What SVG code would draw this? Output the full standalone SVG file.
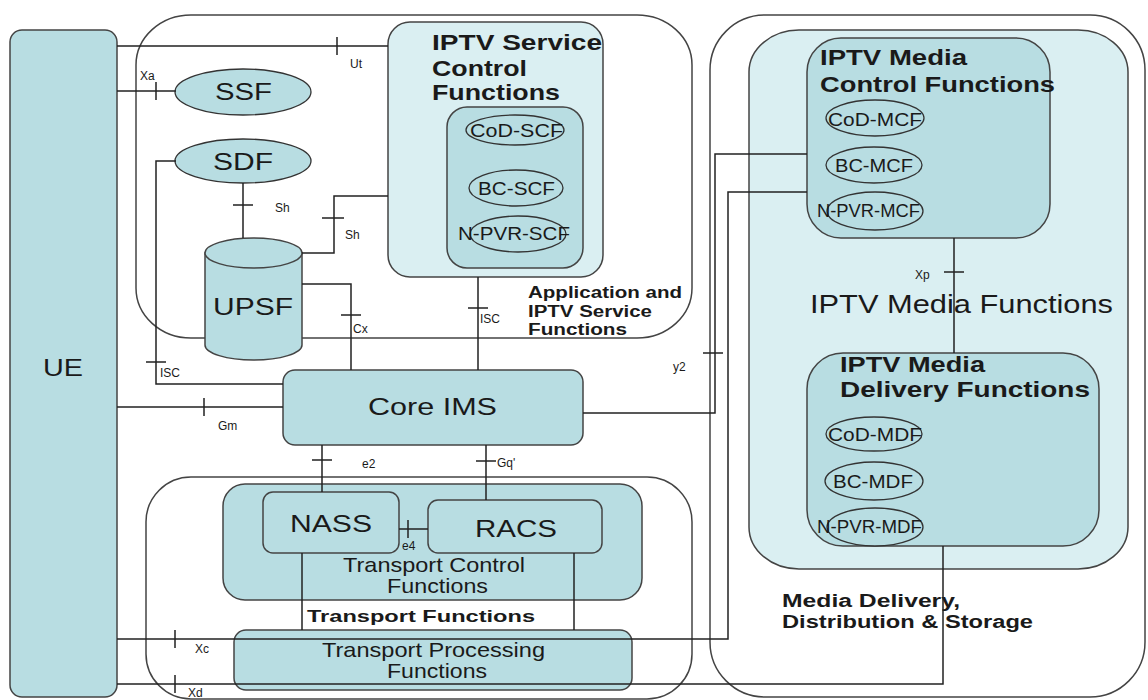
<svg xmlns="http://www.w3.org/2000/svg" width="1148" height="700" viewBox="0 0 1148 700">
<style>
.cont{fill:none;stroke:#444;stroke-width:1.5}
.light{fill:#daeff2;stroke:#444;stroke-width:1.5}
.dark{fill:#b8dde2;stroke:#444;stroke-width:1.5}
.el{fill:#b8dde2;stroke:#333;stroke-width:1.3}
.conn path{fill:none;stroke:#222;stroke-width:1.5}
text{font-family:"Liberation Sans",Arial,sans-serif;fill:#1a1a1a}
.b{font-weight:bold}
.lbl{font-size:12px}
.big{font-size:24px}
.ttl{font-size:22px;font-weight:bold}
.sm{font-size:18px}
.mid{font-size:21px}
</style>
<rect width="1148" height="700" fill="#ffffff"/>
<g id="containers">
  <rect id="app-container" class="cont" x="136" y="15" width="556" height="323" rx="55" ry="50"/>
  <rect id="transport-container" class="cont" x="146" y="477" width="546" height="222" rx="45"/>
  <rect id="media-container" class="cont" x="710" y="15" width="435" height="682" rx="55"/>
  <rect id="media-functions" class="light" x="749" y="30" width="379" height="539" rx="50" ry="42"/>
  <text x="810" y="313" style="font-size:25px" textLength="303" lengthAdjust="spacingAndGlyphs">IPTV Media Functions</text>
  <text class="b" x="528" y="298" style="font-size:16px" textLength="154" lengthAdjust="spacingAndGlyphs">Application and</text>
  <text class="b" x="528" y="317" style="font-size:16px" textLength="124" lengthAdjust="spacingAndGlyphs">IPTV Service</text>
  <text class="b" x="528" y="335" style="font-size:16px" textLength="99" lengthAdjust="spacingAndGlyphs">Functions</text>
  <text class="b" x="782" y="607" style="font-size:18px" textLength="178" lengthAdjust="spacingAndGlyphs">Media Delivery,</text>
  <text class="b" x="782" y="628" style="font-size:18px" textLength="251" lengthAdjust="spacingAndGlyphs">Distribution &amp; Storage</text>
</g>
<g id="ue">
  <rect class="dark" x="10" y="30" width="107" height="667" rx="12"/>
  <text class="big" x="43" y="376" textLength="40" lengthAdjust="spacingAndGlyphs">UE</text>
</g>
<g id="ssf">
  <ellipse class="el" cx="243" cy="92" rx="68" ry="23"/>
  <text class="big" x="215" y="100" textLength="57" lengthAdjust="spacingAndGlyphs">SSF</text>
</g>
<g id="sdf">
  <ellipse class="el" cx="243" cy="161" rx="68" ry="22"/>
  <text class="big" x="213" y="170" textLength="60" lengthAdjust="spacingAndGlyphs">SDF</text>
</g>
<g id="upsf">
  <path class="dark" d="M205,253 V345 A48.5,15 0 0 0 302,345 V253 Z"/>
  <ellipse class="dark" cx="253.5" cy="253" rx="48.5" ry="15"/>
  <text class="big" x="213" y="315" textLength="80" lengthAdjust="spacingAndGlyphs">UPSF</text>
</g>
<g id="iptv-scf">
  <rect class="light" x="388" y="22" width="215" height="255" rx="22"/>
  <text class="ttl" x="432" y="50" textLength="170" lengthAdjust="spacingAndGlyphs">IPTV Service</text>
  <text class="ttl" x="432" y="76" textLength="95" lengthAdjust="spacingAndGlyphs">Control</text>
  <text class="ttl" x="432" y="100" textLength="128" lengthAdjust="spacingAndGlyphs">Functions</text>
  <rect class="dark" x="447" y="107" width="136" height="161" rx="20"/>
  <ellipse class="el" cx="515" cy="130" rx="49" ry="15"/>
  <text class="sm" x="470" y="137" textLength="93" lengthAdjust="spacingAndGlyphs">CoD-SCF</text>
  <ellipse class="el" cx="516" cy="188" rx="47" ry="18"/>
  <text class="sm" x="478" y="195" textLength="77" lengthAdjust="spacingAndGlyphs">BC-SCF</text>
  <ellipse class="el" cx="518" cy="234" rx="48" ry="18"/>
  <text class="sm" x="458" y="240" textLength="112" lengthAdjust="spacingAndGlyphs">N-PVR-SCF</text>
</g>
<g id="core-ims">
  <rect class="dark" x="283" y="370" width="300" height="75" rx="12"/>
  <text class="big" x="368" y="415" textLength="129" lengthAdjust="spacingAndGlyphs">Core IMS</text>
</g>
<g id="transport-control">
  <rect class="dark" x="223" y="484" width="419" height="116" rx="22"/>
  <text class="mid" x="343" y="572" textLength="182" lengthAdjust="spacingAndGlyphs">Transport Control</text>
  <text class="mid" x="387" y="593" textLength="101" lengthAdjust="spacingAndGlyphs">Functions</text>
</g>
<g id="nass">
  <rect class="dark" x="263" y="492" width="136" height="61" rx="10"/>
  <text class="big" x="290" y="532" textLength="82" lengthAdjust="spacingAndGlyphs">NASS</text>
</g>
<g id="racs">
  <rect class="dark" x="428" y="500" width="174" height="53" rx="10"/>
  <text class="big" x="475" y="537" textLength="82" lengthAdjust="spacingAndGlyphs">RACS</text>
</g>
<g id="transport-functions-label">
  <text class="b" x="307" y="622" style="font-size:17px" textLength="228" lengthAdjust="spacingAndGlyphs">Transport Functions</text>
</g>
<g id="transport-processing">
  <rect class="dark" x="234" y="630" width="398" height="60" rx="12"/>
  <text class="mid" x="322" y="657" textLength="223" lengthAdjust="spacingAndGlyphs">Transport Processing</text>
  <text class="mid" x="387" y="678" textLength="100" lengthAdjust="spacingAndGlyphs">Functions</text>
</g>
<g id="iptv-mcf">
  <rect class="dark" x="807" y="38" width="243" height="200" rx="34"/>
  <text class="ttl" x="820" y="65" textLength="147" lengthAdjust="spacingAndGlyphs">IPTV Media</text>
  <text class="ttl" x="820" y="92" textLength="235" lengthAdjust="spacingAndGlyphs">Control Functions</text>
  <ellipse class="el" cx="875" cy="118" rx="49" ry="18"/>
  <text class="sm" x="828" y="126" textLength="94" lengthAdjust="spacingAndGlyphs">CoD-MCF</text>
  <ellipse class="el" cx="874" cy="165" rx="48" ry="18"/>
  <text class="sm" x="835" y="172" textLength="78" lengthAdjust="spacingAndGlyphs">BC-MCF</text>
  <ellipse class="el" cx="875" cy="211" rx="48" ry="19"/>
  <text class="sm" x="817" y="217" textLength="103" lengthAdjust="spacingAndGlyphs">N-PVR-MCF</text>
</g>
<g id="iptv-mdf">
  <rect class="dark" x="807" y="353" width="292" height="193" rx="36"/>
  <text class="ttl" x="840" y="372" textLength="145" lengthAdjust="spacingAndGlyphs">IPTV Media</text>
  <text class="ttl" x="840" y="397" textLength="250" lengthAdjust="spacingAndGlyphs">Delivery  Functions</text>
  <ellipse class="el" cx="874" cy="434" rx="48" ry="17"/>
  <text class="sm" x="828" y="441" textLength="94" lengthAdjust="spacingAndGlyphs">CoD-MDF</text>
  <ellipse class="el" cx="874" cy="481" rx="49" ry="19"/>
  <text class="sm" x="833" y="488" textLength="80" lengthAdjust="spacingAndGlyphs">BC-MDF</text>
  <ellipse class="el" cx="875" cy="527" rx="48" ry="19"/>
  <text class="sm" x="817" y="533" textLength="105" lengthAdjust="spacingAndGlyphs">N-PVR-MDF</text>
</g>
<g id="connectors" class="conn">
  <path d="M117,46 H388 M337,37 V55"/>
  <path d="M117,91 H176 M156,82 V100"/>
  <path d="M176,161 H156 V384 H283 M146,362 H166"/>
  <path d="M243,183 V238 M233,205 H253"/>
  <path d="M302,253 H334 V196 H388 M322,218 H344"/>
  <path d="M302,284 H351 V370 M341,315 H361"/>
  <path d="M478,277 V370 M468,308 H488"/>
  <path d="M117,407 H283 M204,398 V416"/>
  <path d="M583,413 H715 V154 H807 M703,353 H723"/>
  <path d="M117,639 H728 V192 H807 M175,630 V648"/>
  <path d="M117,684 H943 V546 M175,675 V693"/>
  <path d="M954,238 V353 M944,272 H964"/>
  <path d="M322,445 V492 M312,460 H332"/>
  <path d="M486,445 V500 M476,461 H496"/>
  <path d="M399,529 H428 M408,520 V538"/>
  <path d="M302,553 V630"/>
  <path d="M574,553 V630"/>
</g>
<g id="labels">
  <text class="lbl" x="350" y="68">Ut</text>
  <text class="lbl" x="140" y="80">Xa</text>
  <text class="lbl" x="275" y="212">Sh</text>
  <text class="lbl" x="345" y="239">Sh</text>
  <text class="lbl" x="353" y="333">Cx</text>
  <text class="lbl" x="160" y="377">ISC</text>
  <text class="lbl" x="480" y="323">ISC</text>
  <text class="lbl" x="218" y="430">Gm</text>
  <text class="lbl" x="673" y="371">y2</text>
  <text class="lbl" x="915" y="279">Xp</text>
  <text class="lbl" x="362" y="468">e2</text>
  <text class="lbl" x="497" y="467">Gq'</text>
  <text class="lbl" x="402" y="550">e4</text>
  <text class="lbl" x="195" y="653">Xc</text>
  <text class="lbl" x="188" y="697">Xd</text>
</g>
</svg>
